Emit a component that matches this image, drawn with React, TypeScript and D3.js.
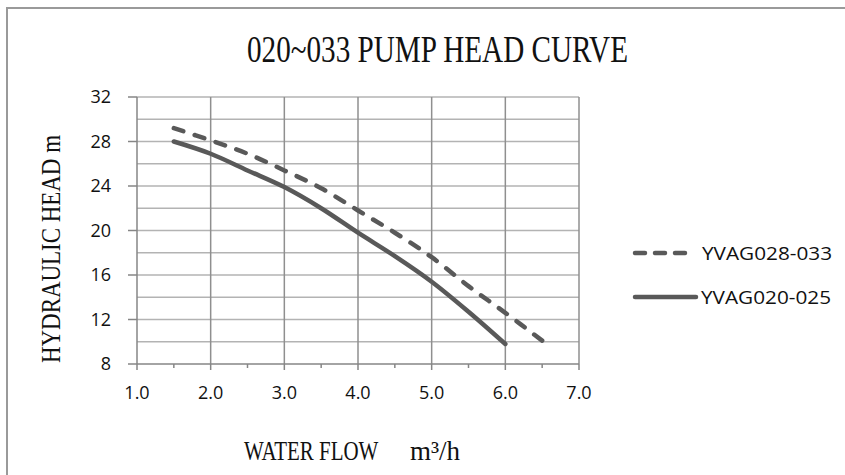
import * as d3 from 'd3'

// flow m3/h vs head m
const flow028 = [1.5, 2.0, 2.5, 3.0, 3.5, 4.0, 4.5, 5.0, 5.5, 6.0, 6.5]
const head028 = [29.2, 28.1, 26.9, 25.4, 23.8, 21.8, 19.8, 17.6, 15.0, 12.6, 10.1]
const flow020 = [1.5, 2.0, 2.5, 3.0, 3.5, 4.0, 4.5, 5.0, 5.5, 6.0]
const head020 = [28.0, 26.9, 25.4, 23.9, 22.0, 19.8, 17.7, 15.4, 12.7, 9.8]
const xTicks = [1, 2, 3, 4, 5, 6, 7]
const yTicks = [8, 12, 16, 20, 24, 28, 32]
const seriesNames = ['YVAG028-033', 'YVAG020-025']

const W = 845
const H = 475

const App = () => {
  const x = d3.scaleLinear().domain([1, 7]).range([137, 579])
  const y = d3.scaleLinear().domain([8, 32]).range([364, 97])

  const line = d3.line<[number, number]>()
    .x(d => x(d[0]))
    .y(d => y(d[1]))
    .curve(d3.curveCatmullRom.alpha(0.5))

  const pts028 = flow028.map((f, i) => [f, head028[i]] as [number, number])
  const pts020 = flow020.map((f, i) => [f, head020[i]] as [number, number])

  const hGrid = d3.range(10, 33, 2)
  const vGrid = d3.range(2, 8, 1)
  const minorX = d3.range(1.5, 7, 1)

  const lineColor = '#595959'
  const serif = '"Liberation Serif", "DejaVu Serif", serif'
  const sans = '"Open Sans", "Noto Sans", sans-serif'

  return (
    <svg width={W} height={H} style={{ position: 'absolute', left: 0, top: 0, background: '#fff' }}>
      <rect x={7} y={8} width={W + 20} height={H + 20} fill="#fff" stroke="#9a9a9a" strokeWidth={2} />

      <text x={247} y={62} fontFamily={serif} fontSize={38} textLength={381} lengthAdjust="spacingAndGlyphs" fill="#111">
        020~033 PUMP HEAD CURVE
      </text>

      {hGrid.map(v => (
        <line key={'h' + v} x1={x(1)} x2={x(7)} y1={y(v)} y2={y(v)} stroke="#b3b3b3" strokeWidth={1.5} />
      ))}
      {vGrid.map(v => (
        <line key={'v' + v} x1={x(v)} x2={x(v)} y1={y(8)} y2={y(32)} stroke="#8f8f8f" strokeWidth={1.5} />
      ))}

      {/* axes */}
      <line x1={x(1)} x2={x(1)} y1={y(8)} y2={y(32)} stroke="#868686" strokeWidth={1.5} />
      <line x1={x(1)} x2={x(7)} y1={y(8)} y2={y(8)} stroke="#868686" strokeWidth={1.5} />
      {yTicks.map(v => (
        <g key={'yt' + v}>
          <line x1={x(1) - 9} x2={x(1)} y1={y(v)} y2={y(v)} stroke="#868686" strokeWidth={1.5} />
          <text x={111} y={y(v)} dy="0.36em" textAnchor="end" fontFamily={sans} fontSize={18} fill="#111">{v}</text>
        </g>
      ))}
      {xTicks.map(v => (
        <g key={'xt' + v}>
          <line x1={x(v)} x2={x(v)} y1={y(8)} y2={y(8) + 6} stroke="#868686" strokeWidth={1.5} />
          <text x={x(v)} y={393} dy="0.36em" textAnchor="middle" fontFamily={sans} fontSize={18} fill="#111">{v.toFixed(1)}</text>
        </g>
      ))}
      {minorX.map(v => (
        <line key={'mx' + v} x1={x(v)} x2={x(v)} y1={y(8)} y2={y(8) + 4} stroke="#868686" strokeWidth={1.5} />
      ))}

      <path d={line(pts028) ?? ''} fill="none" stroke={lineColor} strokeWidth={4.5} strokeDasharray="10 12" strokeLinecap="round" />
      <path d={line(pts020) ?? ''} fill="none" stroke={lineColor} strokeWidth={4.5} strokeLinecap="round" />

      {/* axis titles */}
      <text transform="translate(60,249) rotate(-90)" textAnchor="middle" fontFamily={serif} fontSize={27} textLength={228} lengthAdjust="spacingAndGlyphs" fill="#111">
        HYDRAULIC HEAD m
      </text>
      <text transform="translate(244,460) scale(0.776,1)" fontFamily={serif} fontSize={27} fill="#111">
        WATER FLOW
      </text>
      <text x={410} y={460} fontFamily={serif} fontSize={27} fill="#111">
        m³/h
      </text>

      {/* legend */}
      <line x1={635} x2={690} y1={253} y2={253} stroke={lineColor} strokeWidth={4.5} strokeDasharray="10 10" strokeLinecap="round" />
      <text x={702} y={253} dy="0.36em" fontFamily={sans} fontSize={19} fill="#111" textLength={130} lengthAdjust="spacingAndGlyphs">{seriesNames[0]}</text>
      <line x1={635} x2={696} y1={297} y2={297} stroke={lineColor} strokeWidth={4.5} strokeLinecap="round" />
      <text x={701} y={297} dy="0.36em" fontFamily={sans} fontSize={19} fill="#111" textLength={130} lengthAdjust="spacingAndGlyphs">{seriesNames[1]}</text>
    </svg>
  )
}

export default App
